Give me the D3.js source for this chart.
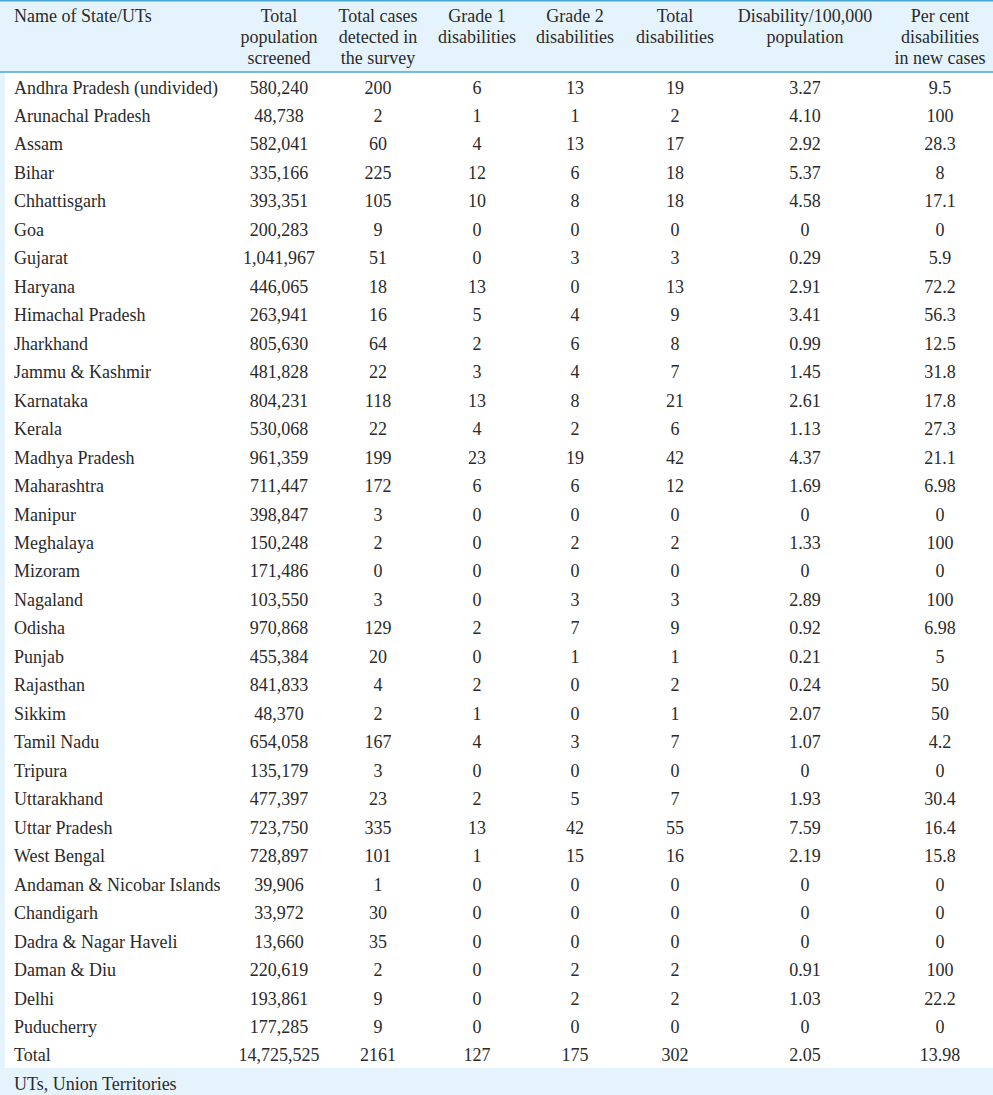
<!DOCTYPE html>
<html><head><meta charset="utf-8">
<script src="https://cdn.jsdelivr.net/npm/d3@7"></script>
<style>html,body{margin:0;padding:0;background:#fff}svg{display:block}</style>
</head><body>
<script>
const states = ["Andhra Pradesh (undivided)","Arunachal Pradesh","Assam","Bihar","Chhattisgarh","Goa","Gujarat","Haryana","Himachal Pradesh","Jharkhand","Jammu & Kashmir","Karnataka","Kerala","Madhya Pradesh","Maharashtra","Manipur","Meghalaya","Mizoram","Nagaland","Odisha","Punjab","Rajasthan","Sikkim","Tamil Nadu","Tripura","Uttarakhand","Uttar Pradesh","West Bengal","Andaman & Nicobar Islands","Chandigarh","Dadra & Nagar Haveli","Daman & Diu","Delhi","Puducherry","Total"];
const population = [580240,48738,582041,335166,393351,200283,1041967,446065,263941,805630,481828,804231,530068,961359,711447,398847,150248,171486,103550,970868,455384,841833,48370,654058,135179,477397,723750,728897,39906,33972,13660,220619,193861,177285,14725525];
const casesDetected = [200,2,60,225,105,9,51,18,16,64,22,118,22,199,172,3,2,0,3,129,20,4,2,167,3,23,335,101,1,30,35,2,9,9,2161];
const grade1 = [6,1,4,12,10,0,0,13,5,2,3,13,4,23,6,0,0,0,0,2,0,2,1,4,0,2,13,1,0,0,0,0,0,0,127];
const grade2 = [13,1,13,6,8,0,3,0,4,6,4,8,2,19,6,0,2,0,3,7,1,0,0,3,0,5,42,15,0,0,0,2,2,0,175];
const totalDisabilities = [19,2,17,18,18,0,3,13,9,8,7,21,6,42,12,0,2,0,3,9,1,2,1,7,0,7,55,16,0,0,0,2,2,0,302];
const per100k = ["3.27","4.10","2.92","5.37","4.58","0","0.29","2.91","3.41","0.99","1.45","2.61","1.13","4.37","1.69","0","1.33","0","2.89","0.92","0.21","0.24","2.07","1.07","0","1.93","7.59","2.19","0","0","0","0.91","1.03","0","2.05"];
const percentNew = ["9.5","100","28.3","8","17.1","0","5.9","72.2","56.3","12.5","31.8","17.8","27.3","21.1","6.98","0","100","0","100","6.98","5","50","50","4.2","0","30.4","16.4","15.8","0","0","0","100","22.2","0","13.98"];
const headers = [
  ["Name of State/UTs"],
  ["Total","population","screened"],
  ["Total cases","detected in","the survey"],
  ["Grade 1","disabilities"],
  ["Grade 2","disabilities"],
  ["Total","disabilities"],
  ["Disability/100,000","population"],
  ["Per cent","disabilities","in new cases"]
];
const footnote = "UTs, Union Territories";

const W = 993, H = 1095;
const headBg = "#e5f4fc", lineCol = "#45a7d2", textCol = "#2a2a2a";
const font = "'Liberation Serif','Times New Roman',serif";
const colX = [14, 279, 378, 477, 575, 675, 805, 940];

const svg = d3.select("body").append("svg").attr("width", W).attr("height", H)
  .style("font-family", font).style("font-size", "18px");

svg.append("rect").attr("x",0).attr("y",0).attr("width",W).attr("height",H).attr("fill",headBg);
svg.append("rect").attr("x",5).attr("y",72).attr("width",W-5).attr("height",1068-72).attr("fill","#fff");
svg.append("line").attr("x1",0).attr("x2",W).attr("y1",0.75).attr("y2",0.75).attr("stroke",lineCol).attr("stroke-width",1.5);
svg.append("line").attr("x1",0).attr("x2",W).attr("y1",72).attr("y2",72).attr("stroke",lineCol).attr("stroke-width",1.5);

const fmtComma = d3.format(",");
const cols = [
  states,
  population.map(fmtComma),
  casesDetected.map(String),
  grade1.map(String),
  grade2.map(String),
  totalDisabilities.map(String),
  per100k,
  percentNew
];

const y = d3.scaleBand().domain(d3.range(states.length)).range([73, 73 + 28.47*states.length]);

// header
headers.forEach((lines, c) => {
  lines.forEach((t, i) => {
    svg.append("text").attr("x", colX[c]).attr("y", 21.5 + i*21.3)
      .attr("text-anchor", c === 0 ? "start" : "middle").attr("fill", textCol).text(t);
  });
});

// body
cols.forEach((vals, c) => {
  svg.append("g").selectAll("text").data(vals).join("text")
    .attr("x", colX[c])
    .attr("y", (d, i) => y(i) + 20.5)
    .attr("text-anchor", c === 0 ? "start" : "middle")
    .attr("fill", textCol).text(d => d);
});

svg.append("text").attr("x", 14).attr("y", 1089.5).attr("fill", textCol).text(footnote);
</script>
</body></html>
